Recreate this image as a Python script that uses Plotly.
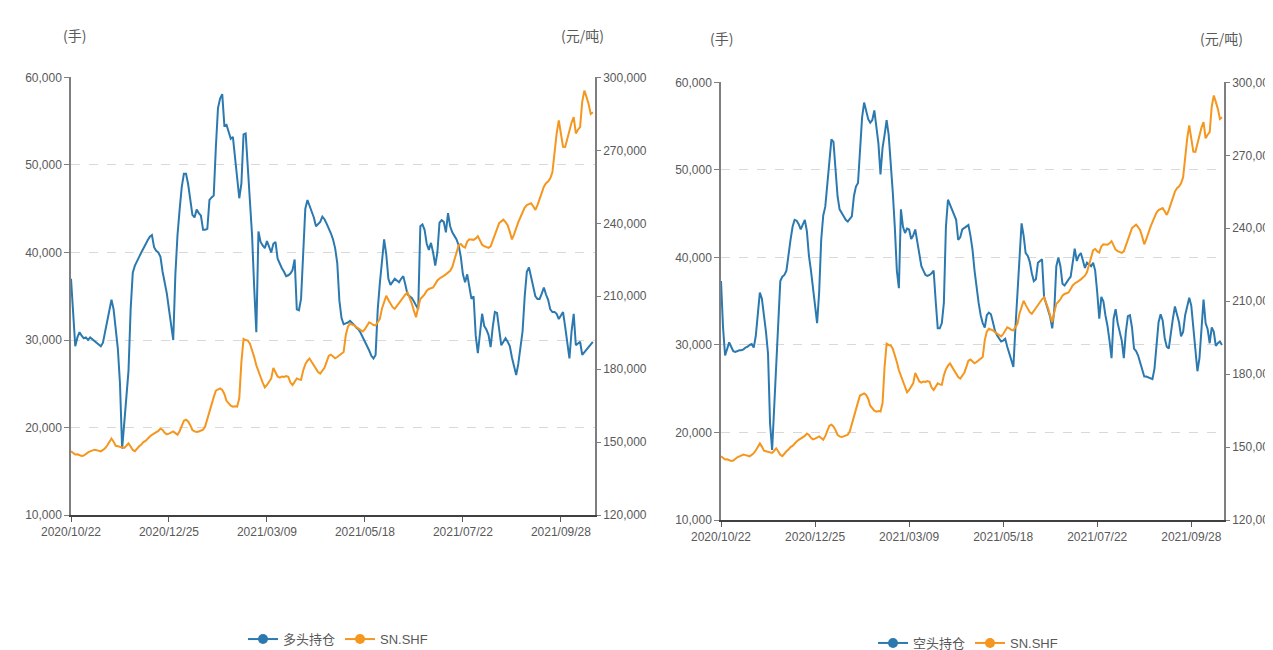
import datetime
import plotly.graph_objects as go

# ---------------- data ----------------
HOLIDAYS = ["2021-01-01", "2021-02-11", "2021-02-12", "2021-02-15", "2021-02-16", "2021-02-17",
            "2021-04-05", "2021-05-03", "2021-05-04", "2021-05-05", "2021-06-14",
            "2021-09-20", "2021-09-21", "2021-10-01", "2021-10-04", "2021-10-05",
            "2021-10-06", "2021-10-07"]
N_DAYS = 246
dates = []
d = datetime.date(2020, 10, 22)
while len(dates) < N_DAYS:
    if d.weekday() < 5 and d.isoformat() not in HOLIDAYS:
        dates.append(d.strftime("%Y/%m/%d"))
    d += datetime.timedelta(days=1)

TICK_LABELS = ["2020/10/22", "2020/12/25", "2021/03/09", "2021/05/18", "2021/07/22", "2021/09/28"]

long_pos = [
    37000, 32500, 29300, 30300, 30900, 30500, 30200, 30300, 30000, 30300,
    30100, 29800, 29600, 29400, 29300, 29700, 31000, 32200, 33300, 34600,
    33500, 31200, 29000, 25000, 17600, 20500, 23400, 26500, 33500, 37700,
    38500, 39100, 39500, 40000, 40500, 40900, 41400, 41800, 42000, 40600,
    40200, 40000, 39500, 37800, 36600, 35300, 33500, 31500, 30000, 37500,
    42000, 44900, 47500, 49000, 49000, 47800, 45800, 44300, 44000, 44900,
    44500, 44200, 42600, 42600, 42700, 46000, 46300, 46500, 52000, 56500,
    57600, 58100, 54500, 54600, 53800, 53000, 53200, 51000, 48500, 46200,
    47900, 53500, 53600, 50000, 45500, 42000, 36000, 30900, 42400, 41200,
    40800, 40500, 41300, 40700, 40000, 41000, 41200, 39300, 38700, 38200,
    37800, 37300, 37400, 37600, 38000, 39200, 33500, 33400, 34700, 39500,
    45000, 46000, 45300, 44800, 44000, 43000, 43300, 43500, 44100, 43800,
    43300, 42800, 42200, 41500, 40500, 38800, 34500, 32500, 31800, 31900,
    32000, 32200, 32000, 31700, 31400, 31200, 30800, 30300, 29800, 29400,
    28800, 28200, 27900, 28300, 33500, 36500, 39500, 41500, 39800, 37000,
    36300, 36700, 37000, 36800, 36600, 37000, 37300, 36300, 35200, 35000,
    34800, 34400, 34000, 33500, 43000, 43200, 42600, 41000, 40300, 41100,
    40000, 38500, 40000, 43400, 43700, 43500, 42300, 44500, 43000, 42300,
    41900, 41500, 40800, 39500, 37500, 36600, 37500, 36000, 34700, 35000,
    30500, 28500, 30500, 33000, 31600, 31200, 30600, 29200, 31500, 33200,
    33100, 31500, 29400, 29800, 30200, 29800, 29300, 28000, 26800, 26000,
    27300, 29000, 31000, 35000, 37800, 38300, 37300, 36000, 35000, 34700,
    34700, 35300, 36000, 35200, 34600, 33500, 33200, 33200, 33000, 32400,
    32800, 33200, 31500, 29500, 27900, 31000, 33000, 29400, 29600, 29800,
    28300, 28600, 29000, 29300, 29500, 29800,
]

short_pos = [
    37300, 32000, 28800, 29600, 30300, 29800, 29300, 29200, 29300, 29400,
    29400, 29500, 29700, 29800, 30000, 30100, 29700, 31000, 33500, 36000,
    35300, 33500, 31500, 29000, 21000, 18000, 23000, 27000, 33000, 37300,
    37800, 38000, 38500, 40500, 42000, 43500, 44300, 44200, 43800, 43200,
    43800, 44300, 43000, 40200, 38500, 36800, 34500, 32500, 36000, 42000,
    44800, 45800, 48500, 51500, 53500, 53200, 50000, 47000, 45500, 45000,
    44700, 44300, 44100, 44400, 44700, 47000, 48100, 48500, 53000, 56000,
    57700, 56700, 55800, 55400, 55700, 56800, 55000, 53000, 49500, 52500,
    54000, 55700, 54000, 51000, 47500, 43500, 38500, 36500, 45500, 43500,
    42800, 43300, 43200, 42100, 42500, 43200, 41800, 40200, 39000, 38500,
    38000, 37900, 38000, 38200, 38500, 35000, 31900, 31900, 32500, 34800,
    43500, 46600, 46000, 45600, 44800, 44300, 42000, 42300, 43200, 43400,
    43600, 43700, 42500, 40900, 38500, 36500, 34800, 33400, 32500, 32000,
    33400, 33700, 33500, 32600, 31600, 31100, 30700, 30400, 30500, 30700,
    29800, 29000, 28300, 27500, 32000, 36500, 40000, 43900, 42500, 40500,
    40200, 39500, 38200, 37300, 37500, 39400, 39600, 39800, 35500, 34700,
    34200, 33200, 31900, 34000, 39000, 40000, 39000, 37000, 36800, 37200,
    37500, 37800, 39500, 41000, 39600, 40200, 40500, 39500, 38800, 39400,
    39200, 39000, 39400, 38500, 36000, 33000, 35500, 35000, 33400, 32200,
    30500, 28500, 33000, 34100, 32500, 31500, 30500, 28500, 31500, 33300,
    33400, 32000, 29600, 29300, 28800, 28000, 27200, 26400, 26400, 26300,
    26200, 26100, 27300, 30500, 32600, 33500, 32800, 30800, 29800, 29600,
    31500, 33000, 34400, 33500, 32600, 31000, 31500, 33400, 34500, 35400,
    34500, 32000, 29000, 27000, 28500, 32000, 35200, 32500, 31800, 30200,
    32000, 31500, 29900, 30200, 30400, 30000,
]

sn_price = [
    146200, 145500, 144900, 145000, 144600, 144300, 144500, 145200, 145800, 146200,
    146600, 146900, 146700, 146400, 146200, 146800, 147500, 148600, 149800, 151500,
    150200, 148500, 148300, 148000, 147800, 147600, 148500, 149500, 148200, 146800,
    146300, 147500, 148300, 149000, 150000, 150500, 151500, 152300, 153000, 153500,
    154200, 154600, 155600, 155000, 153800, 153200, 153500, 154000, 154400, 153700,
    153000, 154500, 157000, 158800, 159200, 158500, 157000, 155000, 154400, 154200,
    154400, 154800, 155100, 156500, 159500, 163000, 166500, 168500, 171200, 171800,
    172100, 171500, 169800, 167000, 165800, 165000, 164600, 164800, 164600, 168000,
    183000, 192500, 192000, 191800, 190500, 188000, 185000, 181600, 179500, 176800,
    174500, 172500, 173500, 175000, 176200, 180500, 179000, 177000, 176500, 177000,
    176800, 177200, 176900, 174500, 173500, 175000, 176200, 175800, 175600, 179500,
    182000, 183500, 184400, 183000, 181600, 180000, 178800, 178200, 179500, 180600,
    183000, 185500, 186000, 185200, 184500, 185000, 185700, 186500, 187100, 194000,
    197500, 198700, 198500, 198000, 197300, 196600, 196000, 195500, 196500, 198000,
    199300, 198800, 198200, 198000, 199500, 200700, 205000, 207500, 210200, 208500,
    207000, 205500, 204800, 206000, 207500, 208500, 209800, 210800, 211600, 209500,
    207000, 204000, 201400, 205500, 208900, 209800, 210800, 212300, 213000, 213300,
    213600, 215000, 216500, 217300, 218000, 218400, 219000, 219700, 220500, 222000,
    225000, 228000, 231000, 231500, 230500, 230000, 232500, 233400, 233400, 233200,
    233800, 234700, 233000, 231200, 230600, 230200, 229900, 230500, 233000, 236000,
    238000, 240100, 240800, 241500, 240500, 239200, 236500, 233400, 235500, 238500,
    240500, 242500, 244500, 246500, 247500, 248000, 248300, 247000, 245500, 247500,
    249700, 252500, 255100, 256500, 257200, 258500, 261000, 270000, 277000, 282300,
    277000, 271500, 271400, 275000, 278300, 281500, 283700, 277000, 278500, 279600,
    290000, 294600, 292000, 289100, 285000, 285700,
]

LEFT_NAMES = ["多头持仓", "SN.SHF"]
RIGHT_NAMES = ["空头持仓", "SN.SHF"]
LEFT_TICKS = [10000, 20000, 30000, 40000, 50000, 60000]
RIGHT_TICKS = [120000, 150000, 180000, 210000, 240000, 270000, 300000]

# ---------------- styles ----------------
BLUE = "#2C79B0"
ORANGE = "#F5961E"
TXT = "#595959"
FONT = "Liberation Sans, Arial, Noto Sans CJK SC, sans-serif"
CJK = "Noto Sans CJK SC, sans-serif"

fig = go.Figure()

# left chart
fig.add_trace(go.Scatter(x=dates, y=long_pos, mode="lines", line=dict(color=BLUE, width=2),
                         xaxis="x", yaxis="y", showlegend=False))
fig.add_trace(go.Scatter(x=dates, y=sn_price, mode="lines", line=dict(color=ORANGE, width=2),
                         xaxis="x", yaxis="y2", showlegend=False))
# right chart
fig.add_trace(go.Scatter(x=dates, y=short_pos, mode="lines", line=dict(color=BLUE, width=2),
                         xaxis="x2", yaxis="y3", showlegend=False))
fig.add_trace(go.Scatter(x=dates, y=sn_price, mode="lines", line=dict(color=ORANGE, width=2),
                         xaxis="x2", yaxis="y4", showlegend=False))

# legend entries
for name, col in zip(LEFT_NAMES, [BLUE, ORANGE]):
    fig.add_trace(go.Scatter(x=[None], y=[None], mode="lines+markers", name=name,
                             line=dict(color=col, width=2), marker=dict(color=col, size=10),
                             xaxis="x", yaxis="y", legend="legend"))
for name, col in zip(RIGHT_NAMES, [BLUE, ORANGE]):
    fig.add_trace(go.Scatter(x=[None], y=[None], mode="lines+markers", name=name,
                             line=dict(color=col, width=2), marker=dict(color=col, size=10),
                             xaxis="x2", yaxis="y3", legend="legend2"))

W, H = 1273, 650
def px(v):
    return v / W
def py(v):
    return 1 - v / H

xcommon = dict(type="category", range=[0, 246], tickmode="array", tickvals=TICK_LABELS,
               ticks="outside", ticklen=5, tickcolor="#595959", showline=True,
               linecolor="#404040", linewidth=1.5, showgrid=False, zeroline=False,
               tickfont=dict(family=FONT, size=12, color=TXT), automargin=False)
yleft = dict(range=[10000, 60000], tickvals=LEFT_TICKS, tickformat=",", ticks="outside",
             ticklen=5, tickcolor="#7f7f7f", showline=True, linecolor="#7f7f7f", linewidth=1.5,
             showgrid=True, gridcolor="#D9D9D9", griddash="dash", gridwidth=1, zeroline=False,
             tickfont=dict(family=FONT, size=12, color=TXT), automargin=False)
yright = dict(range=[120000, 300000], tickvals=RIGHT_TICKS, tickformat=",", ticks="outside",
              ticklen=4, tickcolor="#7f7f7f", showline=True, linecolor="#7f7f7f", linewidth=1.5,
              showgrid=False, zeroline=False, side="right",
              tickfont=dict(family=FONT, size=12, color=TXT), automargin=False)

fig.update_layout(
    width=W, height=H,
    margin=dict(l=0, r=0, t=0, b=0),
    paper_bgcolor="white", plot_bgcolor="white",
    template="none",
    xaxis=dict(domain=[px(63), px(587)], anchor="y", **xcommon),
    yaxis=dict(domain=[py(511), py(70)], anchor="x", **yleft),
    yaxis2=dict(overlaying="y", anchor="x", **yright),
    xaxis2=dict(domain=[px(713), px(1216)], anchor="y3", **xcommon),
    yaxis3=dict(domain=[py(516), py(75)], anchor="x2", **yleft),
    yaxis4=dict(overlaying="y3", anchor="x2", **yright),
    legend=dict(orientation="h", x=px(330), y=py(636), xanchor="center", yanchor="middle",
                font=dict(family=FONT, size=13, color=TXT), itemwidth=30, bgcolor="rgba(0,0,0,0)"),
    legend2=dict(orientation="h", x=px(960), y=py(640), xanchor="center", yanchor="middle",
                 font=dict(family=FONT, size=13, color=TXT), itemwidth=30, bgcolor="rgba(0,0,0,0)"),
    showlegend=True,
)

annots = [("(手)", 66, 27), ("(元/吨)", 574, 27), ("(手)", 713, 30), ("(元/吨)", 1213, 30)]
for text, x, y in annots:
    fig.add_annotation(text=text, x=px(x), y=py(y), xref="paper", yref="paper",
                       showarrow=False, xanchor="center", yanchor="middle",
                       font=dict(family=CJK, size=14, color=TXT))

fig.write_html("out.html")
